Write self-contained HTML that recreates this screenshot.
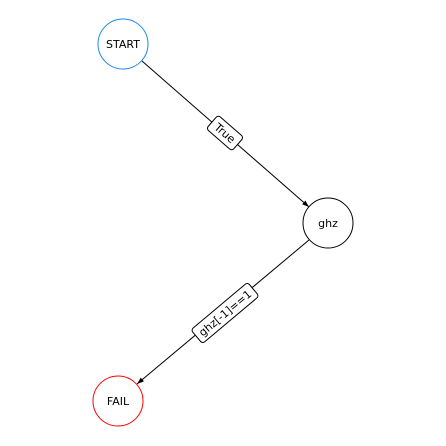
<!DOCTYPE html>
<html><head><meta charset="utf-8"><style>html,body{margin:0;padding:0;background:#fff}svg{display:block}</style></head>
<body>
<svg width="446" height="446" viewBox="0 0 446 446" xmlns="http://www.w3.org/2000/svg" font-family="DejaVu Sans, Liberation Sans, sans-serif">
<defs><marker id="a" markerWidth="8" markerHeight="6" refX="7" refY="3" orient="auto" markerUnits="userSpaceOnUse"><path d="M0,0.5 L7,3 L0,5.5 Z" fill="#000"/></marker></defs>
<line x1="142" y1="61" x2="309" y2="207" stroke="#000" stroke-width="1" marker-end="url(#a)"/>
<line x1="309" y1="240" x2="137" y2="384" stroke="#000" stroke-width="1" marker-end="url(#a)"/>
<circle cx="123" cy="44" r="25" fill="#fff" stroke="#1e88e5" stroke-width="1"/>
<circle cx="328" cy="223" r="25" fill="#fff" stroke="#000" stroke-width="1"/>
<circle cx="118" cy="401" r="25" fill="#fff" stroke="#ff0000" stroke-width="1"/>
<text x="123" y="48" font-size="11" text-anchor="middle">START</text>
<text x="328" y="227" font-size="11" text-anchor="middle">ghz</text>
<text x="118" y="405" font-size="11" text-anchor="middle">FAIL</text>
<g transform="translate(225,133) rotate(41)">
<rect x="-17" y="-9" width="34" height="18" rx="3" fill="#fff" stroke="#000"/>
<text x="0" y="4" font-size="11" text-anchor="middle">True</text>
</g>
<g transform="translate(225,313) rotate(-40)">
<rect x="-37" y="-9" width="74" height="18" rx="3" fill="#fff" stroke="#000"/>
<text x="0" y="4" font-size="11" text-anchor="middle">ghz[-1]==1</text>
</g>
</svg>
</body></html>
